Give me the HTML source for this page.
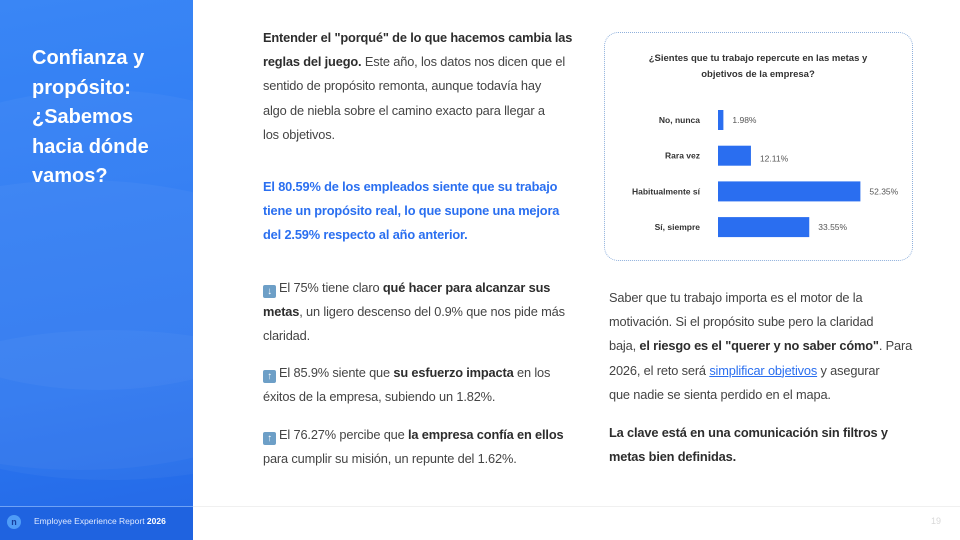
<!DOCTYPE html>
<html><head><meta charset="utf-8">
<style>
*{margin:0;padding:0;box-sizing:border-box}
body{width:960px;height:540px;overflow:hidden;background:#fff;font-family:"Liberation Sans",sans-serif;position:relative;color:#3a3a3a}
.side{position:absolute;left:0;top:0;width:193px;height:540px;background:linear-gradient(170deg,#3a86f5 0%,#2f7cf3 40%,#2a76f0 70%,#2468e6 100%);overflow:hidden}
.wave{position:absolute;border-radius:50%;background:rgba(255,255,255,0.035)}
.title{position:absolute;left:32px;top:44px;color:#fff;font-weight:bold;font-size:20px;line-height:29.6px;white-space:nowrap}
.foot-l{position:absolute;left:0;top:506px;width:193px;height:34px;background:#1f63e0;border-top:1px solid #6fa2f5}
.logo{position:absolute;left:7px;top:515px;width:14px;height:14px;border-radius:50%;background:#4f9cf7;color:#173e9c;font-size:9px;font-weight:bold;text-align:center;line-height:14px}
.ftxt{position:absolute;left:34px;top:516px;color:#dfe9ff;font-size:8.5px;white-space:nowrap}
.hr{position:absolute;left:193px;top:506px;width:767px;height:1px;background:#f0f0f0}
.pg{position:absolute;left:931px;top:516px;font-size:9px;color:#d8d8d8}
.p{position:absolute;font-size:12.8px;line-height:24.2px;white-space:nowrap;color:#444;letter-spacing:-0.15px}
b{color:#2d2d2d}
.blue{color:#2a6ff0;font-weight:bold}
.ic{display:inline-block;width:13px;height:13px;background:#6d9fc7;color:#fff;font-size:10px;line-height:13px;text-align:center;border-radius:2px;vertical-align:-2px;margin-right:3px}
a{color:#2a6ff0}
.box{position:absolute;left:604px;top:32px;width:309px;height:229px;border:1.5px dotted #8fb0dc;border-radius:14px}
</style></head><body>
<div class="side">
<div class="wave" style="left:-150px;top:90px;width:500px;height:300px"></div>
<div class="wave" style="left:-200px;top:180px;width:560px;height:290px"></div>
<div class="wave" style="left:-100px;top:330px;width:420px;height:150px"></div>
</div>
<div class="title">Confianza y<br>propósito:<br>¿Sabemos<br>hacia dónde<br>vamos?</div>
<div class="foot-l"></div>
<div class="logo">n</div>
<div class="ftxt">Employee Experience Report <b style="color:#fff">2026</b></div>
<div class="hr"></div>
<div class="pg">19</div>

<div class="p" style="left:263px;top:26px"><b>Entender el "porqué" de lo que hacemos cambia las<br>reglas del juego.</b> Este año, los datos nos dicen que el<br>sentido de propósito remonta, aunque todavía hay<br>algo de niebla sobre el camino exacto para llegar a<br>los objetivos.</div>
<div class="p blue" style="left:263px;top:175px">El 80.59% de los empleados siente que su trabajo<br>tiene un propósito real, lo que supone una mejora<br>del 2.59% respecto al año anterior.</div>
<div class="p" style="left:263px;top:276px"><span class="ic">↓</span>El 75% tiene claro <b>qué hacer para alcanzar sus<br>metas</b>, un ligero descenso del 0.9% que nos pide más<br>claridad.</div>
<div class="p" style="left:263px;top:361px"><span class="ic">↑</span>El 85.9% siente que <b>su esfuerzo impacta</b> en los<br>éxitos de la empresa, subiendo un 1.82%.</div>
<div class="p" style="left:263px;top:423px"><span class="ic">↑</span>El 76.27% percibe que <b>la empresa confía en ellos</b><br>para cumplir su misión, un repunte del 1.62%.</div>

<div class="p" style="left:609px;top:286px">Saber que tu trabajo importa es el motor de la<br>motivación. Si el propósito sube pero la claridad<br>baja, <b>el riesgo es el "querer y no saber cómo"</b>. Para<br>2026, el reto será <a href="#">simplificar objetivos</a> y asegurar<br>que nadie se sienta perdido en el mapa.</div>
<div class="p" style="left:609px;top:421px"><b>La clave está en una comunicación sin filtros y<br>metas bien definidas.</b></div>

<div class="box"></div>
<svg id="chart" width="960" height="540" style="position:absolute;left:0;top:0">
<text x="758" y="61" text-anchor="middle" font-size="9.5" font-weight="bold" fill="#333">¿Sientes que tu trabajo repercute en las metas y</text>
<text x="758" y="77" text-anchor="middle" font-size="9.5" font-weight="bold" fill="#333">objetivos de la empresa?</text>
</svg>
<script>
const categories=["No, nunca","Rara vez","Habitualmente sí","Sí, siempre"];
const values=[1.98,12.11,52.35,33.55];
const valueLabels=["1.98%","12.11%","52.35%","33.55%"];
const svg=document.getElementById('chart');
const NS="http://www.w3.org/2000/svg";
const x0=718,pxPer=2.72;
function xs(v){return v*pxPer;}
function yc(i){return 120+i*35.7;}
categories.forEach((c,i)=>{
  const y=yc(i);
  const r=document.createElementNS(NS,'rect');
  r.setAttribute('x',x0);r.setAttribute('y',y-10);
  r.setAttribute('width',Math.max(xs(values[i]),5));r.setAttribute('height',20);
  r.setAttribute('fill','#2a6ef0');
  
  
  svg.appendChild(r);
  const t=document.createElementNS(NS,'text');
  t.setAttribute('x',700);t.setAttribute('y',y+3);t.setAttribute('text-anchor','end');
  t.setAttribute('font-size','8.5');t.setAttribute('font-weight','bold');t.setAttribute('fill','#333');
  t.textContent=c;
  
  
  svg.appendChild(t);
  const v=document.createElementNS(NS,'text');
  v.setAttribute('x',x0+Math.max(xs(values[i]),5)+9);v.setAttribute('y',y+(i==1?6:3));
  v.setAttribute('font-size','8.5');v.setAttribute('fill','#555');
  v.textContent=valueLabels[i];
  
  
  svg.appendChild(v);
});
</script>
</body></html>
